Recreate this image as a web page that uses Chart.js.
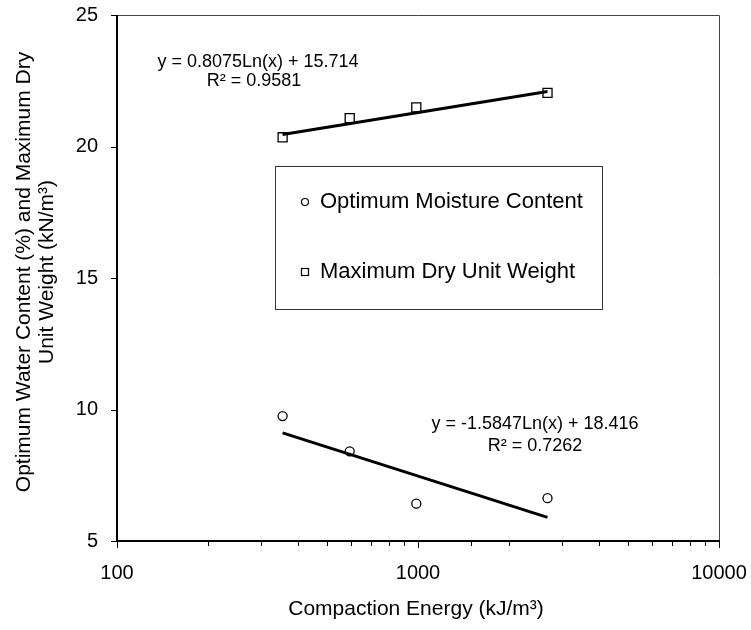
<!DOCTYPE html>
<html>
<head>
<meta charset="utf-8">
<script src="https://cdn.jsdelivr.net/npm/chart.js@4.4.1/dist/chart.umd.min.js"></script>
<style>
  html, body { margin: 0; padding: 0; background: #fff; }
  #wrap { width: 751px; height: 630px; }
</style>
</head>
<body>
<div id="wrap"><canvas id="chart" width="751" height="630"></canvas></div>
<script>
// compaction energy (kJ/m3) for the four test series
var energy = [355, 593, 987, 2693];
// optimum moisture content (%)
var moisture = [9.75, 8.41, 6.42, 6.63];
// maximum dry unit weight (kN/m3)
var dryWeight = [20.35, 21.08, 21.49, 22.04];

// logarithmic trendline coefficients: y = a*Ln(x) + b
var weightFit = [0.8075, 15.714];
var weightR2 = "0.9581";
var moistureFit = [-1.5847, 18.416];
var moistureR2 = "0.7262";

var xTicks = [100, 1000, 10000];
var yTicks = [5, 10, 15, 20, 25];

var FONT = '"Liberation Sans", Arial, sans-serif';

function trend(fit) {
  var lo = Math.min.apply(null, energy);
  var hi = Math.max.apply(null, energy);
  return [lo, hi].map(function(x) {
    return { x: x, y: fit[0] * Math.log(x) + fit[1] };
  });
}

function pts(ys) {
  return energy.map(function(x, i) { return { x: x, y: ys[i] }; });
}

// frame, tick marks, axis titles, equations and the legend box
var decorations = {
  id: 'decorations',
  afterDatasetsDraw: function(chart) {
    var ctx = chart.ctx;
    var a = chart.chartArea;
    var xs = chart.scales.x, ys = chart.scales.y;
    ctx.save();

    // thin top / right frame
    ctx.strokeStyle = '#444';
    ctx.lineWidth = 1;
    ctx.beginPath();
    ctx.moveTo(a.left, a.top + 0.5);
    ctx.lineTo(a.right + 0.5, a.top + 0.5);
    ctx.lineTo(a.right + 0.5, a.bottom);
    ctx.stroke();

    // tick marks
    ctx.strokeStyle = '#000';
    ctx.lineWidth = 1;
    xs.ticks.forEach(function(t) {
      var px = Math.round(xs.getPixelForValue(t.value)) + 0.5;
      var major = xTicks.indexOf(t.value) >= 0;
      ctx.beginPath();
      ctx.moveTo(px, a.bottom);
      ctx.lineTo(px, a.bottom + (major ? 7 : 5));
      ctx.stroke();
    });
    ys.ticks.forEach(function(t) {
      var py = Math.round(ys.getPixelForValue(t.value)) + 0.5;
      ctx.beginPath();
      ctx.moveTo(a.left - 6, py);
      ctx.lineTo(a.left, py);
      ctx.stroke();
    });

    // heavy left / bottom axes
    ctx.lineWidth = 2;
    ctx.beginPath();
    ctx.moveTo(a.left, a.top);
    ctx.lineTo(a.left, a.bottom);
    ctx.lineTo(a.right + 1, a.bottom);
    ctx.stroke();

    ctx.fillStyle = '#000';
    ctx.textAlign = 'center';
    ctx.textBaseline = 'middle';

    // axis titles
    ctx.font = '21px ' + FONT;
    ctx.fillText('Compaction Energy (kJ/m\u00b3)', (a.left + a.right) / 2 - 2, 609);
    ctx.save();
    ctx.translate(24, 272);
    ctx.rotate(-Math.PI / 2);
    ctx.fillText('Optimum Water Content (%) and Maximum Dry', 0, 0);
    ctx.fillText('Unit Weight (kN/m\u00b3)', 0, 23);
    ctx.restore();

    // trendline equations
    ctx.font = '18px ' + FONT;
    ctx.fillText('y = ' + weightFit[0] + 'Ln(x) + ' + weightFit[1], 258, 62);
    ctx.fillText('R\u00b2 = ' + weightR2, 254, 81);
    ctx.fillText('y = ' + moistureFit[0] + 'Ln(x) + ' + moistureFit[1], 535, 424);
    ctx.fillText('R\u00b2 = ' + moistureR2, 535, 446);

    // legend
    ctx.strokeStyle = '#333';
    ctx.lineWidth = 1;
    ctx.strokeRect(275.5, 166.5, 327, 143);
    ctx.textAlign = 'left';
    ctx.font = '22px ' + FONT;
    ctx.lineWidth = 1.2;
    ctx.strokeStyle = '#000';
    ctx.beginPath();
    ctx.arc(305, 202, 3.5, 0, Math.PI * 2);
    ctx.stroke();
    ctx.fillText('Optimum Moisture Content', 320, 202);
    ctx.strokeRect(301.5, 268.5, 7, 7);
    ctx.fillText('Maximum Dry Unit Weight', 320, 272);

    ctx.restore();
  }
};

// invisible grid ticks only push the tick labels away from the axes
var hiddenGrid = function(len) {
  return { display: true, drawOnChartArea: false, drawTicks: true, tickLength: len, color: 'rgba(0,0,0,0)' };
};

new Chart(document.getElementById('chart'), {
  type: 'scatter',
  data: {
    datasets: [
      {
        label: 'Maximum Dry Unit Weight trend',
        data: trend(weightFit),
        showLine: true,
        borderColor: '#000',
        borderWidth: 3,
        pointRadius: 0,
        order: 0
      },
      {
        label: 'Optimum Moisture Content trend',
        data: trend(moistureFit),
        showLine: true,
        borderColor: '#000',
        borderWidth: 3,
        pointRadius: 0,
        order: 0
      },
      {
        label: 'Optimum Moisture Content',
        data: pts(moisture),
        pointStyle: 'circle',
        pointRadius: 4.5,
        pointBorderWidth: 1.3,
        borderColor: '#000',
        backgroundColor: '#fff',
        order: 1
      },
      {
        label: 'Maximum Dry Unit Weight',
        data: pts(dryWeight),
        pointStyle: 'rect',
        pointRadius: 6.4,
        pointBorderWidth: 1.3,
        borderColor: '#000',
        backgroundColor: '#fff',
        order: 1
      }
    ]
  },
  options: {
    responsive: false,
    animation: false,
    layout: { padding: { top: 15, right: 32, left: 0, bottom: 0 } },
    plugins: {
      legend: { display: false },
      tooltip: { enabled: false }
    },
    scales: {
      x: {
        type: 'logarithmic',
        min: 100,
        max: 10000,
        afterFit: function(s) { s.height = 89; },
        grid: hiddenGrid(20),
        border: { display: false },
        ticks: {
          color: '#000',
          font: { size: 20, family: FONT },
          padding: 0,
          maxRotation: 0,
          autoSkip: false,
          callback: function(v) {
            return xTicks.indexOf(v) >= 0 ? String(v) : '';
          }
        }
      },
      y: {
        min: 5,
        max: 25,
        afterFit: function(s) { s.width = 117; },
        afterBuildTicks: function(s) {
          s.ticks = yTicks.map(function(v) { return { value: v }; });
        },
        grid: hiddenGrid(19),
        border: { display: false },
        ticks: {
          color: '#000',
          font: { size: 20, family: FONT },
          padding: 0
        }
      }
    }
  },
  plugins: [decorations]
});
</script>
</body>
</html>
